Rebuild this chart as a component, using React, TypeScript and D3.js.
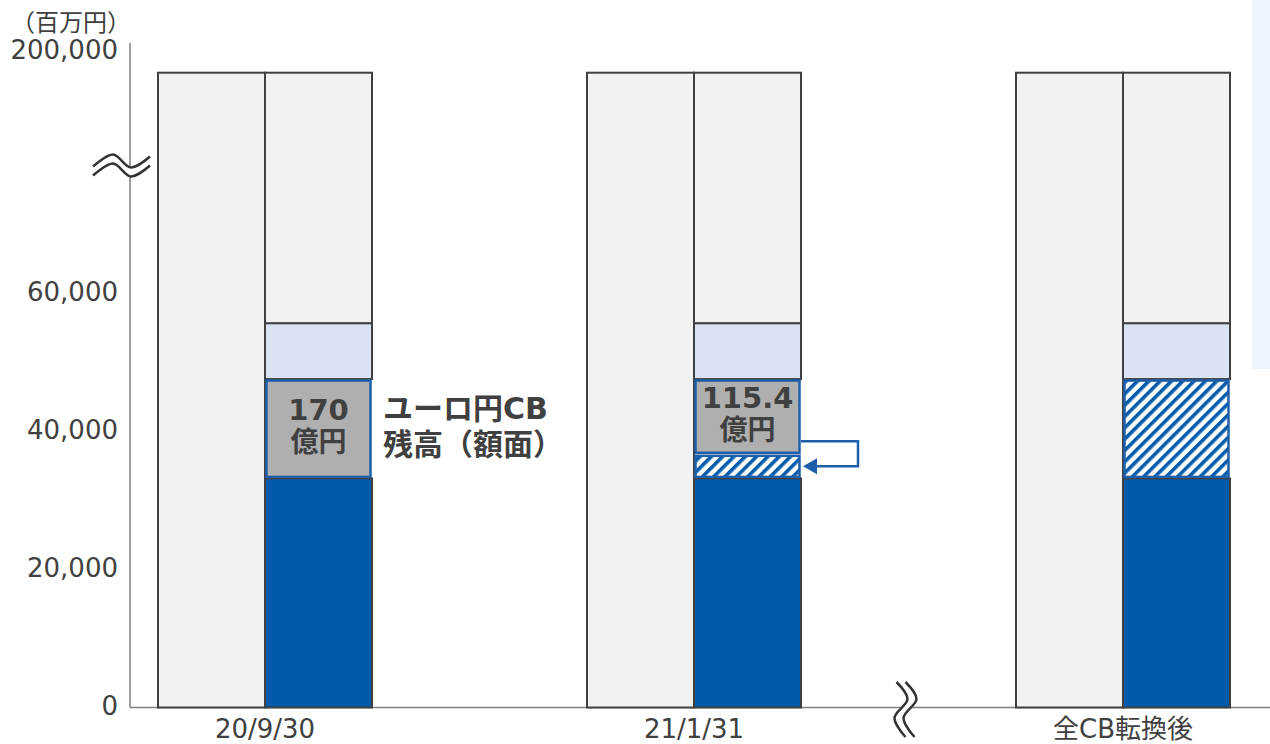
import React from 'react';
import * as d3 from 'd3';

const categories = ['20/9/30', '21/1/31', '全CB転換後'];
const totalValues = [176000, 176000, 176000];
const baseValues = [33200, 33200, 33200];
const convertedValues = [0, 3500, 14400];
const cbValues = [14400, 10900, 0];
const otherValues = [8100, 8100, 8100];
const yTickValues = [0, 20000, 40000, 60000, 200000];
const yTickLabels = ['0', '20,000', '40,000', '60,000', '200,000'];
const cbLabelNumbers = ['170', '115.4', ''];
const cbLabelUnit = '億円';
const unitLabel = '（百万円）';
const noteLines = ['ユーロ円CB', '残高（額面）'];

const W = 1270;
const H = 744;
const FONT = "'DejaVu Sans', 'Noto Sans CJK JP', sans-serif";
const TXT = '#404040';
const DARK = '#404040';
const BLUE = '#005BAC';
const EDGE_BLUE = '#1F5FAA';

export default function App() {
  const y = d3.scaleLinear().domain([0, 80000, 200000]).range([707.5, 155.5, 52]);
  const x = d3.scalePoint<string>().domain(categories).range([265, 1123]);
  const sub = d3.scaleBand<string>().domain(['total', 'detail']).range([-107, 107]).paddingInner(0);
  const bw = sub.bandwidth();

  const table = categories.map((c, i) => ({
    cat: c,
    base: baseValues[i],
    converted: convertedValues[i],
    cb: cbValues[i],
    other: otherValues[i],
    rest: totalValues[i] - baseValues[i] - convertedValues[i] - cbValues[i] - otherValues[i],
  }));
  const keys = ['base', 'converted', 'cb', 'other', 'rest'];
  const stack = d3.stack<any>().keys(keys)(table);
  const style: Record<string, { fill: string; stroke: string; inset: boolean }> = {
    base: { fill: BLUE, stroke: DARK, inset: false },
    converted: { fill: 'url(#hatch)', stroke: EDGE_BLUE, inset: true },
    cb: { fill: '#AFAFAF', stroke: EDGE_BLUE, inset: true },
    other: { fill: '#DAE3F3', stroke: DARK, inset: false },
    rest: { fill: '#F2F2F2', stroke: DARK, inset: false },
  };

  const line = d3.line<[number, number]>().curve(d3.curveCatmullRom.alpha(0.5));
  const yBreak: [number, number][] = [[93, 171], [113, 159], [131, 172], [150, 161]];
  const xBreak: [number, number][] = [[901, 682], [912, 699], [899, 718], [910, 737]];
  const shift = (pts: [number, number][], dx: number, dy: number) =>
    pts.map(([a, b]) => [a + dx, b + dy] as [number, number]);

  const segs: any[] = [];
  stack.forEach((layer) => {
    layer.forEach((d, i) => {
      if (d[1] - d[0] <= 0) return;
      segs.push({ key: layer.key, i, y0: d[0], y1: d[1] });
    });
  });
  const darkSegs = segs.filter((s) => !style[s.key].inset);
  const blueSegs = segs.filter((s) => style[s.key].inset);

  return (
    <svg width={W} height={H} style={{ position: 'absolute', left: 0, top: 0, background: '#fff' }} fontFamily={FONT}>
      <defs>
        <pattern id="hatch" patternUnits="userSpaceOnUse" width={8} height={8} patternTransform="rotate(45)">
          <rect x={0} y={0} width={8} height={8} fill="#fff" />
          <rect x={0} y={0} width={3.6} height={8} fill={BLUE} />
        </pattern>
      </defs>

      <rect x={1252} y={0} width={18} height={369} fill="#EDF4FC" />

      {/* axes */}
      <line x1={130} x2={130} y1={43} y2={y(0)} stroke="#808080" strokeWidth={1.5} />
      <line x1={130} x2={W} y1={y(0)} y2={y(0)} stroke="#808080" strokeWidth={1.5} />

      {yTickValues.map((v, i) => (
        <text key={v} x={118} y={y(v) + 7} textAnchor="end" fontSize={26} fill={TXT}>
          {yTickLabels[i]}
        </text>
      ))}
      <text x={71} y={31} textAnchor="middle" fontSize={24} fill={TXT}>{unitLabel}</text>

      {/* total bars */}
      {categories.map((c, i) => (
        <rect key={c} x={x(c)! + sub('total')!} y={y(totalValues[i])} width={bw}
          height={y(0) - y(totalValues[i])} fill="#F2F2F2" stroke={DARK} strokeWidth={2} />
      ))}

      {/* detail stacked bars */}
      {darkSegs.map((s) => (
        <rect key={s.key + s.i} x={x(categories[s.i])! + sub('detail')!} y={y(s.y1)} width={bw}
          height={y(s.y0) - y(s.y1)} fill={style[s.key].fill} stroke={style[s.key].stroke} strokeWidth={2} />
      ))}
      {blueSegs.map((s) => (
        <rect key={s.key + s.i} x={x(categories[s.i])! + sub('detail')! + 1.5} y={y(s.y1) + 1.5} width={bw - 3}
          height={y(s.y0) - y(s.y1) - 3} fill={style[s.key].fill} stroke={style[s.key].stroke} strokeWidth={2.5} />
      ))}

      {/* CB labels */}
      {categories.map((c, i) => {
        if (!cbLabelNumbers[i]) return null;
        const lo = baseValues[i] + convertedValues[i];
        const mid = (y(lo) + y(lo + cbValues[i])) / 2;
        const cx = x(c)! + sub('detail')! + bw / 2;
        return (
          <g key={c} fill={TXT} fontWeight="bold" textAnchor="middle">
            <text x={cx} y={mid - 9} fontSize={29}>{cbLabelNumbers[i]}</text>
            <text x={cx} y={mid + 23} fontSize={28}>{cbLabelUnit}</text>
          </g>
        );
      })}

      {/* note */}
      <g fill={TXT} fontWeight="bold" fontSize={30}>
        <text x={383} y={419}>{noteLines[0]}</text>
        <text x={383} y={455}>{noteLines[1]}</text>
      </g>

      {/* arrow */}
      {(() => {
        const c = categories[1];
        const right = x(c)! + sub('detail')! + bw;
        const hTop = y(baseValues[1] + convertedValues[1]);
        const hMid = (y(baseValues[1]) + hTop) / 2;
        const y1 = hTop - 13;
        return (
          <g>
            <path d={`M${right},${y1}H858V${hMid}H${right + 14}`} fill="none" stroke={EDGE_BLUE} strokeWidth={2.5} />
            <path d={`M${right + 2},${hMid}L${right + 16},${hMid - 8}L${right + 16},${hMid + 8}Z`} fill={EDGE_BLUE} />
          </g>
        );
      })()}

      {/* x labels */}
      {categories.map((c) => (
        <text key={c} x={x(c)!} y={738} textAnchor="middle" fontSize={26} fill={TXT}>{c}</text>
      ))}

      {/* axis breaks */}
      <path d={line(yBreak)!} fill="none" stroke="#fff" strokeWidth={9} />
      <path d={line(shift(yBreak, 0, -4.5))!} fill="none" stroke="#333" strokeWidth={2.5} />
      <path d={line(shift(yBreak, 0, 4.5))!} fill="none" stroke="#333" strokeWidth={2.5} />

      <path d={line(xBreak)!} fill="none" stroke="#fff" strokeWidth={9} />
      <path d={line(shift(xBreak, -4.5, 0))!} fill="none" stroke="#333" strokeWidth={2.5} />
      <path d={line(shift(xBreak, 4.5, 0))!} fill="none" stroke="#333" strokeWidth={2.5} />
    </svg>
  );
}
